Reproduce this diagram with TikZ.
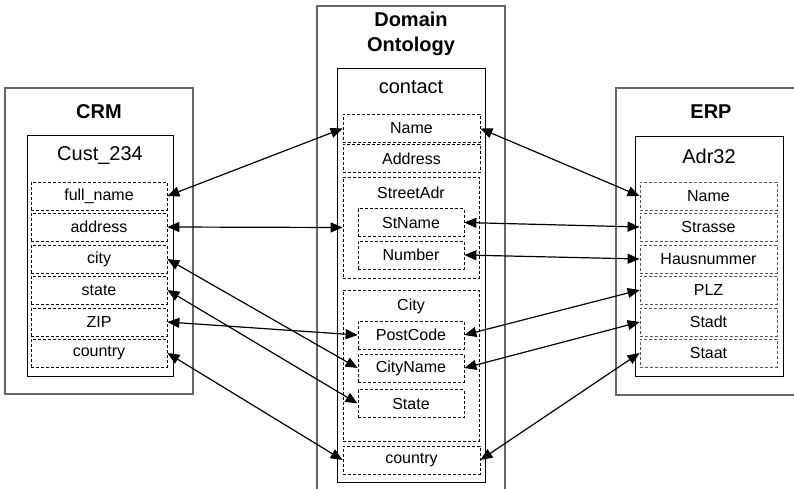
\documentclass[tikz,border=0pt]{standalone}
\usepackage{fontspec}
\setmainfont{Liberation Sans}
\usetikzlibrary{arrows.meta}
\begin{document}
\begin{tikzpicture}[x=1pt,y=-1pt,
  outerbox/.style={draw=black!60, line width=1.3pt},
  objbox/.style={draw=black, line width=0.9pt},
  fieldbox/.style={draw=black, dash pattern=on 3pt off 2pt, line width=0.8pt,
    minimum height=28pt, inner sep=0pt, font=\fontsize{16}{18}\selectfont},
  erpfield/.style={fieldbox, draw=black!65},
  grpbox/.style={draw=black, dash pattern=on 3pt off 2pt, line width=0.8pt, inner sep=0pt},
  title/.style={font=\bfseries\fontsize{20}{25}\selectfont, align=center},
  objtitle/.style={font=\fontsize{20}{24}\selectfont},
  grplabel/.style={font=\fontsize{16}{18}\selectfont},
  conn/.style={{Triangle[length=12pt,width=10pt]}-{Triangle[length=12pt,width=10pt]}, line width=1.2pt}
]
\useasboundingbox (0,0) rectangle (794,489);
\clip (0,0) rectangle (794,489);

% outer system boxes
\draw[outerbox] (5,88) rectangle (193,394);
\draw[outerbox] (317,6) rectangle (505,520);
\draw[outerbox] (616,88) rectangle (820,395);

% object boxes
\draw[objbox] (27,135) rectangle (173,376);
\draw[objbox] (337,68) rectangle (485,482);
\draw[objbox] (635,136) rectangle (783,376);

% titles
\node[title] (tcrm) at (99,112) {CRM};
\node[title] (tdom) at (411,34) {Domain\\Ontology};
\node[title] (terp) at (711,112) {ERP};
\node[objtitle] (tcust) at (100,156) {Cust\_234};
\node[objtitle] (tcontact) at (411,87) {contact};
\node[objtitle] (tadr) at (709,156) {Adr32};

% CRM fields
\node[fieldbox, minimum width=136pt] (cfull) at (99,196) {full\_name};
\node[fieldbox, minimum width=136pt] (caddr) at (99,227) {address};
\node[fieldbox, minimum width=136pt] (ccity) at (99,259) {city};
\node[fieldbox, minimum width=136pt] (cstate) at (99,290) {state};
\node[fieldbox, minimum width=136pt] (czip) at (99,322) {ZIP};
\node[fieldbox, minimum width=136pt] (ccountry) at (99,353) {country};

% ERP fields
\node[erpfield, minimum width=137pt] (ename) at (708.5,196) {Name};
\node[erpfield, minimum width=137pt] (estr) at (708.5,227) {Strasse};
\node[erpfield, minimum width=137pt] (ehaus) at (708.5,259) {Hausnummer};
\node[erpfield, minimum width=137pt] (eplz) at (708.5,290) {PLZ};
\node[erpfield, minimum width=137pt] (estadt) at (708.5,322) {Stadt};
\node[erpfield, minimum width=137pt] (estaat) at (708.5,353) {Staat};

% Domain fields
\node[fieldbox, minimum width=137pt] (dname) at (411.5,128.5) {Name};
\node[fieldbox, minimum width=137pt] (daddr) at (411.5,158.5) {Address};
\node[grpbox, minimum width=136pt, minimum height=101pt] (dstreet) at (411,227.5) {};
\node[grplabel] (lstreet) at (411,193) {StreetAdr};
\node[fieldbox, minimum width=106pt] (dstname) at (411,222.5) {StName};
\node[fieldbox, minimum width=106pt] (dnumber) at (411,255) {Number};
\node[grpbox, minimum width=136pt, minimum height=151pt] (dcity) at (411,365.5) {};
\node[grplabel] (lcity) at (411,306) {City};
\node[fieldbox, minimum width=106pt] (dpost) at (411,335) {PostCode};
\node[fieldbox, minimum width=106pt] (dcityname) at (411,368) {CityName};
\node[fieldbox, minimum width=106pt] (dstate) at (411,403.5) {State};
\node[fieldbox, minimum width=137pt] (dcountry) at (411.5,460) {country};

% connectors left
\draw[conn] (cfull.east) -- (dname.west);
\draw[conn] (caddr.east) -- (dstreet.west);
\draw[conn] (ccity.east) -- (dcityname.west);
\draw[conn] (cstate.east) -- (dstate.west);
\draw[conn] (czip.east) -- (dpost.west);
\draw[conn] (ccountry.east) -- (dcountry.west);

% connectors right
\draw[conn] (dname.east) -- (ename.west);
\draw[conn] (dstname.east) -- (estr.west);
\draw[conn] (dnumber.east) -- (ehaus.west);
\draw[conn] (dpost.east) -- (eplz.west);
\draw[conn] (dcityname.east) -- (estadt.west);
\draw[conn] (dcountry.east) -- (estaat.west);
\end{tikzpicture}
\end{document}
